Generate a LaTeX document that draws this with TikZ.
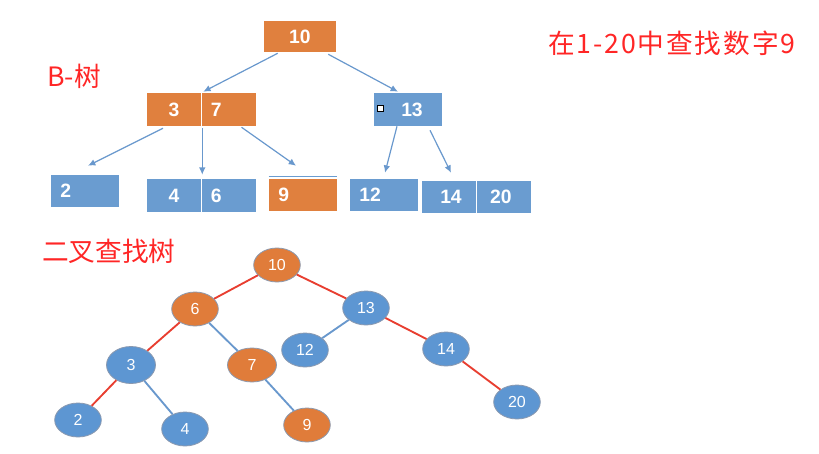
\documentclass[tikz,border=0pt]{standalone}
\usepackage{fontspec}
\setmainfont{Liberation Sans}
\newfontfamily\cjk{Noto Sans CJK SC}
\newfontfamily\cjkwide[LetterSpace=7]{Noto Sans CJK SC}
\usetikzlibrary{calc}
\usetikzlibrary{positioning}
\usetikzlibrary{arrows.meta}
\usetikzlibrary{shapes}
\definecolor{bOrange}{RGB}{224,128,62}
\definecolor{bBlue}{RGB}{106,156,208}
\definecolor{eOrange}{RGB}{224,124,58}
\definecolor{eBlue}{RGB}{93,150,210}
\definecolor{eLine}{RGB}{90,110,140}
\definecolor{sRed}{RGB}{255,38,38}
\definecolor{lRed}{RGB}{232,62,48}
\definecolor{lBlue}{RGB}{105,152,205}
\tikzset{
  cell/.style={rectangle, inner sep=0pt, minimum height=24.75pt, text=white,
    font=\fontsize{14.5}{16}\selectfont\bfseries},
  half/.style={cell, minimum width=40.5pt},
  wide/.style={cell, minimum width=51pt},
  lpad/.style={align=left, inner xsep=7pt},
  ptr/.style={-{Latex[length=5.5pt,width=5pt]}, draw=lBlue, line width=0.9pt},
  ball/.style={ellipse, draw=eLine!70, line width=0.6pt, inner sep=0pt,
    minimum width=35pt, minimum height=25.5pt, text=white,
    font=\fontsize{12}{14}\selectfont},
  hot/.style={draw=lRed, line width=1.4pt},
  cold/.style={draw=lBlue, line width=1.4pt},
  title/.style={text=sRed, inner sep=0pt, anchor=west,
    font=\cjk\fontsize{20}{24}\selectfont}
}

\begin{document}
\begin{tikzpicture}[x=0.75pt,y=-0.75pt]
  \useasboundingbox (0,0) rectangle (819,454);
  % B-tree
  \node[wide, fill=bOrange, minimum height=23.25pt, minimum width=54pt] (root) at (300,36.5) {10};
  \node[half, fill=bOrange] (c3) at (174,109.5) {3};
  \node[half, fill=bOrange, lpad, text width=26.5pt, right=0pt of c3] (c7) {7};
  \node[wide, fill=bBlue] (c13) at (408,109.5) {\hspace*{6pt}13};
  \node[draw=black, fill=white, inner sep=0pt, minimum size=4.5pt] (dot13) at (380,108.5) {};
  \node[wide, fill=bBlue, lpad, text width=37pt, minimum height=24pt] (b2) at (85,191) {2};
  \node[half, fill=bBlue] (c4) at (174,195.5) {4};
  \node[half, fill=bBlue, lpad, text width=26.5pt, right=0pt of c4] (c6) {6};
  \node[wide, fill=bOrange, lpad, text width=37pt, minimum height=24pt] (b9) at (303,195) {9};
  \node[wide, fill=bBlue, lpad, text width=37pt, minimum height=24pt] (b12) at (384,195) {12};
  \node[half, fill=bBlue, minimum height=24pt] (c14) at (449,197) {\hspace*{3pt}14};
  \node[half, fill=bBlue, minimum height=24pt, right=0pt of c14] (c20) {20\hspace*{4pt}};
  \draw[white, line width=0.5pt] (c3.north east) -- (c3.south east);
  \draw[white, line width=0.5pt] (c4.north east) -- (c4.south east);
  \draw[white, line width=0.5pt] (c14.north east) -- (c14.south east);
  \draw[bBlue, line width=1.1pt] ($(b9.north west)+(0,-2.5)$) -- ($(b9.north east)+(0,-2.5)$);

  \draw[ptr] ($(root.south west)+(14,1)$) -- ($(c3.north east)+(2,-1)$);
  \draw[ptr] ($(root.south east)+(-8,2)$) -- ($(c13.north)+(-10,-1)$);
  \draw[ptr] ($(c3.south)+(-11,2)$) -- ($(b2.north)+(3,-9)$);
  \draw[ptr] ($(c3.south east)+(1,2)$) -- ($(c4.north east)+(1,-4)$);
  \draw[ptr] ($(c7.south)+(13,1)$) -- ($(b9.north)+(-7,-13)$);
  \draw[ptr] ($(c13.south)+(-11,0)$) -- ($(b12.north)+(1,-6)$);
  \draw[ptr] ($(c13.south)+(22,4)$) -- ($(c14.north)+(2,-8)$);

  % binary search tree
  \node[ball, fill=eOrange] (n10) at (277,265) {10};
  \node[ball, fill=eOrange] (n6) at (195,309) {6};
  \node[ball, fill=eBlue] (n13) at (366,308) {13};
  \node[ball, fill=eBlue, minimum width=36.75pt, minimum height=27.75pt] (n3) at (131,365) {3};
  \node[ball, fill=eOrange, minimum width=36.75pt] (n7) at (252,365) {7};
  \node[ball, fill=eBlue] (n12) at (305,350) {12};
  \node[ball, fill=eBlue] (n14) at (446,349) {14};
  \node[ball, fill=eBlue] (n2) at (78,420) {2};
  \node[ball, fill=eBlue] (n4) at (185,429) {4};
  \node[ball, fill=eOrange] (n9) at (307,425) {9};
  \node[ball, fill=eBlue] (n20) at (517,402) {20};
  \draw[hot] (n10) -- (n6);
  \draw[hot] (n10) -- (n13);
  \draw[hot] (n6) -- (n3);
  \draw[cold] (n6) -- (n7);
  \draw[hot] (n3) -- (n2);
  \draw[cold] (n3) -- (n4);
  \draw[cold] (n7) -- (n9);
  \draw[cold] (n13) -- (n12);
  \draw[hot] (n13) -- (n14);
  \draw[hot] (n14) -- (n20);

  % labels
  \node[title] (tB) at (47,76) {B-树};
  \node[title] (tBST) at (42,251) {二叉查找树};
  \node[title, font=\cjkwide\fontsize{20}{24}\selectfont] (tTask) at (548,43) {在1-20中查找数字9};
\end{tikzpicture}
\end{document}
